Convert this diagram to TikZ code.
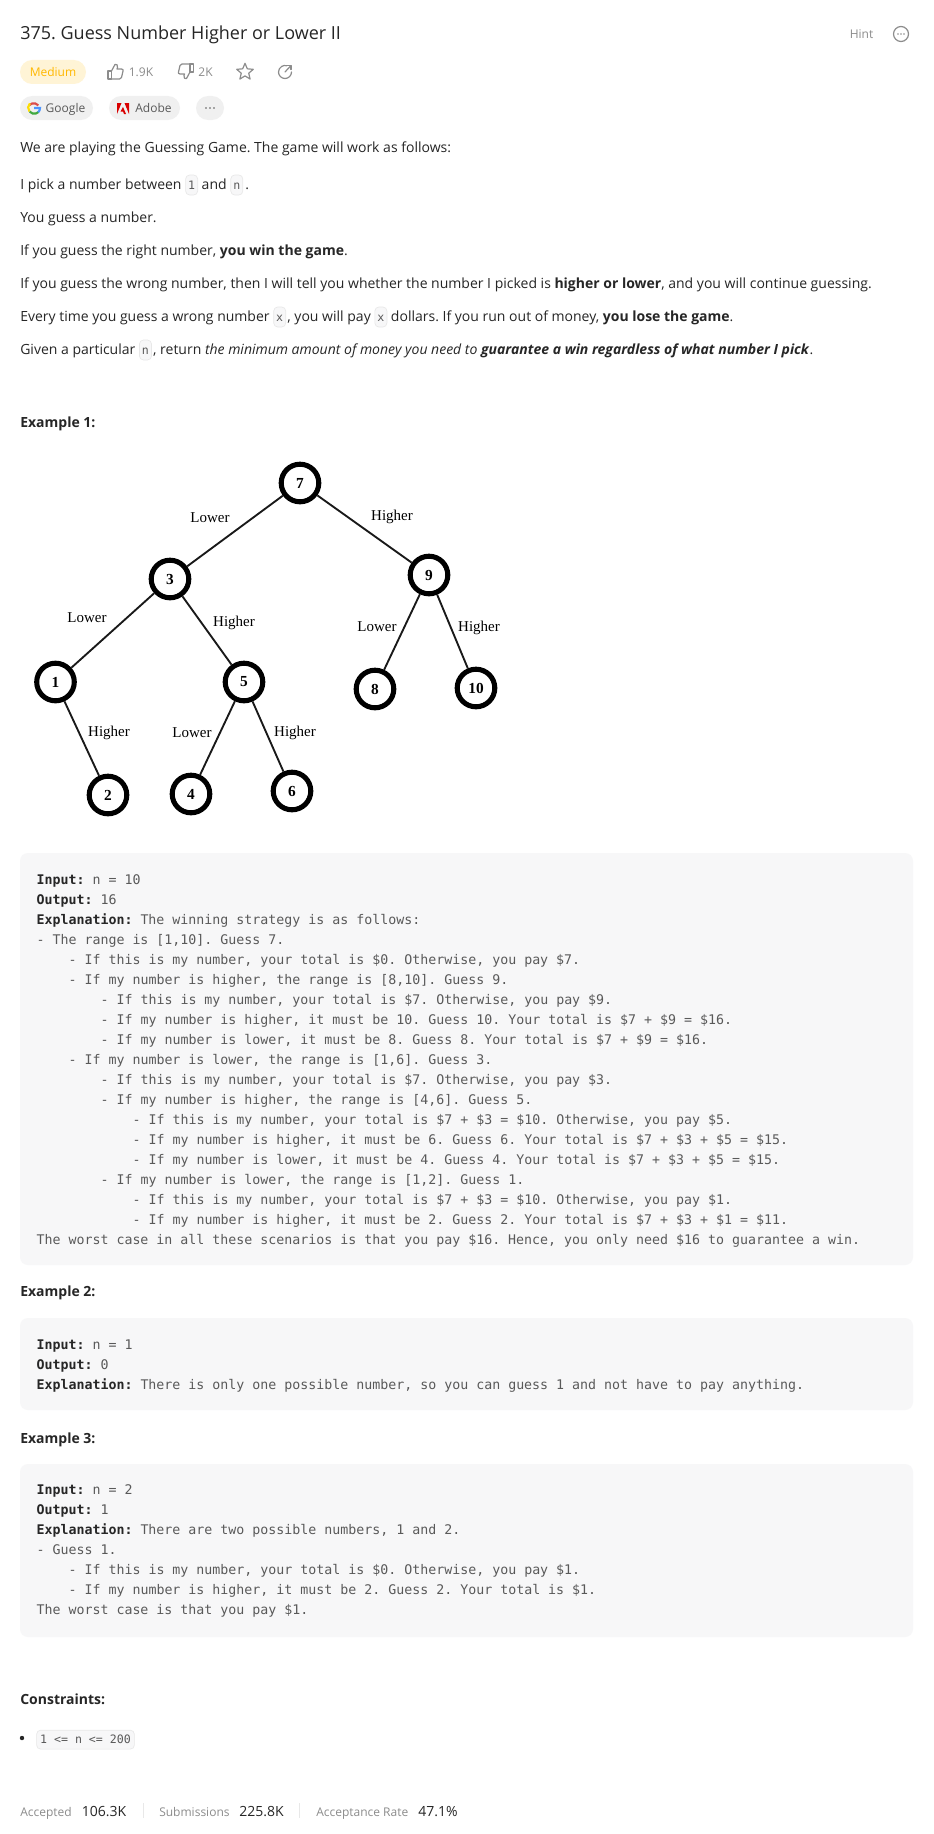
\documentclass[tikz,border=0pt]{standalone}
\usepackage{fontspec}
\setmainfont{Open Sans}
\setmonofont{DejaVu Sans Mono}
\newfontfamily\treeface{Liberation Serif}
\usetikzlibrary{positioning, shapes.geometric}
\frenchspacing

\definecolor{inkdark}{HTML}{262626}
\definecolor{inkcode}{HTML}{595959}
\definecolor{inkgrey}{HTML}{8C8C8C}
\definecolor{boxgrey}{HTML}{F7F7F8}
\definecolor{pillgrey}{HTML}{F0F0F0}
\definecolor{chipline}{HTML}{E8E8E8}
\definecolor{amber}{HTML}{FFB800}
\definecolor{amberbg}{HTML}{FFF4D6}

\newcommand{\ind}[1]{\hspace*{#1\dimexpr 24pt\relax}}
\newcommand{\thumbicon}{%
  \draw[iconline] (-7.5,-0.5) rectangle (-4,7.5);
  \draw[iconline] (-4,-0.5) -- (-0.5,-7) .. controls (1,-8) and (2.5,-6.5) .. (2,-4) -- (1.5,-2.5) -- (6,-2.5)
    .. controls (7.5,-2.5) and (7.8,-1.5) .. (7.5,-0.5) -- (6,6) .. controls (5.7,7.2) and (5,7.5) .. (4,7.5) -- (-4,7.5);
}

\tikzset{
  bodytext/.style={anchor=base west, inner sep=0pt, text=inkdark, font=\fontsize{10.5pt}{14pt}\selectfont},
  heading/.style={bodytext, font=\fontsize{10.5pt}{14pt}\selectfont\bfseries},
  smalltext/.style={anchor=base, inner sep=0pt, text=inkgrey, font=\fontsize{9pt}{12pt}\selectfont},
  chip/.style={anchor=base west, draw=chipline, fill=boxgrey, rounded corners=3pt, line width=0.5pt,
    inner xsep=1.9pt, inner ysep=0pt, text height=10.5pt, text depth=4.5pt, text=inkcode,
    font=\ttfamily\fontsize{8.7pt}{12pt}\selectfont},
  codeblock/.style={anchor=north west, inner sep=0pt, align=left, text=inkcode,
    font=\ttfamily\fontsize{9.96pt}{15pt}\selectfont},
  panel/.style={fill=boxgrey, rounded corners=6pt},
  pill/.style={fill=pillgrey, rounded corners=9pt},
  treenode/.style={circle, draw=black, fill=white, line width=3.8pt, minimum size=28.2pt, inner sep=0pt,
    font=\treeface\bfseries\fontsize{11.5pt}{12pt}\selectfont},
  treelabel/.style={inner sep=0pt, font=\treeface\fontsize{11.25pt}{12pt}\selectfont},
  edge/.style={line width=1.4pt, black!90},
  iconline/.style={draw=inkgrey, line width=0.9pt, line join=round, line cap=round},
}

\begin{document}
\begin{tikzpicture}[x=0.75pt, y=-0.75pt]
  \fill[white] (0,0) rectangle (933,1834);
  \useasboundingbox (0,0) rectangle (933,1834);

  % header row
  \node[bodytext, font=\fontsize{13.5pt}{18pt}\selectfont] (title) at (20,40) {375. Guess Number Higher or Lower II};
  \node[smalltext, text=inkgrey] (hint) at (861.5,38.5) {Hint};
  \draw[iconline] (901,34) circle (7.5);
  \foreach \x in {-3,0,3} \fill[inkgrey] (901+\x,34) circle (0.8);

  \fill[amberbg, rounded corners=9pt] (20,60) rectangle (86,84);
  \node[smalltext, text=amber] (level) at (53,76.5) {Medium};
  \begin{scope}[shift={(115.5,71.5)}] \thumbicon \end{scope} % thumb up
  \node[smalltext] (likes) at (141,76.5) {1.9K};
  \begin{scope}[shift={(186,71.5)}, rotate=180] \thumbicon \end{scope} % thumb down
  \node[smalltext] (dislikes) at (205.5,76.5) {2K};
  \node[star, star points=5, star point ratio=2.2, draw=inkgrey, line width=0.9pt, line join=round,
    minimum size=13pt, inner sep=0pt] (fav) at (245,72) {};
  \draw[iconline] (291.5,72) arc[start angle=0, end angle=285, radius=6.5];
  \draw[iconline] (285,72) -- (291,65.5);
  \draw[iconline] (287,65.5) -- (291,65.5) -- (291,69.5);

  % company tags
  \fill[pill] (20,96) rectangle (93,120);
  \fill[pill] (109,96) rectangle (180,120);
  \fill[pill] (196,96) rectangle (224,120);
  \draw[line width=1.6pt, red!80!black!70] (29.5,105) arc[start angle=225, end angle=320, radius=6];
  \draw[line width=1.6pt, yellow!80!orange] (29.5,111.5) arc[start angle=140, end angle=225, radius=6];
  \draw[line width=1.6pt, green!55!black!75] (38.5,112) arc[start angle=45, end angle=140, radius=6];
  \draw[line width=1.6pt, blue!60!cyan!70] (34,108) -- (40,108) arc[start angle=0, end angle=45, radius=6];
  \node[smalltext, text=inkcode] (google) at (65.5,112.5) {Google};
  \fill[red!85!black] (117,103) -- (121.5,103) -- (117,114) -- cycle;
  \fill[red!85!black] (124.5,103) -- (129,103) -- (129,114) -- cycle;
  \fill[red!85!black] (123,107) -- (126,114) -- (124,114) -- (123,111.5) -- (120.5,111.5) -- cycle;
  \node[smalltext, text=inkcode] (adobe) at (153.5,112.5) {Adobe};
  \foreach \x in {-4,0,4} \fill[inkcode] (210+\x,108) circle (0.9);

  % statement
  \node[bodytext] (intro) at (20,152) {We are playing the Guessing Game. The game will work as follows:};
  \node[bodytext] (pick) at (20,189) {I pick a number between};
  \node[chip, at={(pick.base east)}, xshift=2.6pt] (one) {1};
  \node[bodytext, at={(one.base east)}, xshift=2.6pt] (andw) {and};
  \node[chip, at={(andw.base east)}, xshift=2.6pt] (nA) {n};
  \node[bodytext, at={(nA.base east)}, xshift=1.5pt] (stopA) {.};
  \node[bodytext] (youguess) at (20,222) {You guess a number.};
  \node[bodytext] (right) at (20,255) {If you guess the right number, \textbf{you win the game}.};
  \node[bodytext] (wrong) at (20,288) {If you guess the wrong number, then I will tell you whether the number I picked is \textbf{higher or lower}, and you will continue guessing.};
  \node[bodytext] (every) at (20,321) {Every time you guess a wrong number};
  \node[chip, at={(every.base east)}, xshift=2.6pt] (xA) {x};
  \node[bodytext, at={(xA.base east)}, xshift=0.8pt] (pay) {, you will pay};
  \node[chip, at={(pay.base east)}, xshift=2.6pt] (xB) {x};
  \node[bodytext, at={(xB.base east)}, xshift=2.6pt] (dollars) {dollars. If you run out of money, \textbf{you lose the game}.};
  \node[bodytext] (given) at (20,354) {Given a particular};
  \node[chip, at={(given.base east)}, xshift=2.6pt] (nB) {n};
  \node[bodytext, at={(nB.base east)}, xshift=0.8pt] (ret) {, return \textit{the minimum amount of money you need to} \textbf{\textit{guarantee a win regardless of what number I pick}}.};

  \node[heading] (exA) at (20,427) {Example 1:};

  % tree
  \foreach \name/\x/\y in {7/300/483, 3/170/579, 9/429/575, 1/55.5/682, 5/244/682,
                           8/375/689, 10/476/688, 2/108/795, 4/191/794, 6/292/791}
    \node[treenode] (n\name) at (\x,\y) {\name};
  \foreach \a/\b in {7/3, 7/9, 3/1, 3/5, 9/8, 9/10, 1/2, 5/4, 5/6}
    \draw[edge] (n\a) -- (n\b);
  \foreach \txt/\x/\y [count=\i] in {Lower/210/518, Higher/392/517, Lower/87/618, Higher/234/623,
                                     Lower/377/627, Higher/479/628, Higher/109/733, Lower/192/733, Higher/295/733}
    \node[treelabel] (lab\i) at (\x,\y) {\txt};

  % example 1 output
  \fill[panel] (20,853) rectangle (913,1265);
  \node[codeblock] (codeA) at (36.3,870) {\strut\textbf{\textcolor{inkdark}{Input:}} n = 10\\
\textbf{\textcolor{inkdark}{Output:}} 16\\
\textbf{\textcolor{inkdark}{Explanation:}} The winning strategy is as follows:\\
- The range is [1,10]. Guess 7.\\
\ind{1}- If this is my number, your total is \$0. Otherwise, you pay \$7.\\
\ind{1}- If my number is higher, the range is [8,10]. Guess 9.\\
\ind{2}- If this is my number, your total is \$7. Otherwise, you pay \$9.\\
\ind{2}- If my number is higher, it must be 10. Guess 10. Your total is \$7 + \$9 = \$16.\\
\ind{2}- If my number is lower, it must be 8. Guess 8. Your total is \$7 + \$9 = \$16.\\
\ind{1}- If my number is lower, the range is [1,6]. Guess 3.\\
\ind{2}- If this is my number, your total is \$7. Otherwise, you pay \$3.\\
\ind{2}- If my number is higher, the range is [4,6]. Guess 5.\\
\ind{3}- If this is my number, your total is \$7 + \$3 = \$10. Otherwise, you pay \$5.\\
\ind{3}- If my number is higher, it must be 6. Guess 6. Your total is \$7 + \$3 + \$5 = \$15.\\
\ind{3}- If my number is lower, it must be 4. Guess 4. Your total is \$7 + \$3 + \$5 = \$15.\\
\ind{2}- If my number is lower, the range is [1,2]. Guess 1.\\
\ind{3}- If this is my number, your total is \$7 + \$3 = \$10. Otherwise, you pay \$1.\\
\ind{3}- If my number is higher, it must be 2. Guess 2. Your total is \$7 + \$3 + \$1 = \$11.\\
The worst case in all these scenarios is that you pay \$16. Hence, you only need \$16 to guarantee a win.};

  % example 2
  \node[heading] (exB) at (20,1296) {Example 2:};
  \fill[panel] (20,1318) rectangle (913,1410);
  \node[codeblock] (codeB) at (36.3,1335) {\strut\textbf{\textcolor{inkdark}{Input:}} n = 1\\
\textbf{\textcolor{inkdark}{Output:}} 0\\
\textbf{\textcolor{inkdark}{Explanation:}} There is only one possible number, so you can guess 1 and not have to pay anything.};

  % example 3
  \node[heading] (exC) at (20,1443) {Example 3:};
  \fill[panel] (20,1464) rectangle (913,1637);
  \node[codeblock] (codeC) at (36.3,1480.5) {\strut\textbf{\textcolor{inkdark}{Input:}} n = 2\\
\textbf{\textcolor{inkdark}{Output:}} 1\\
\textbf{\textcolor{inkdark}{Explanation:}} There are two possible numbers, 1 and 2.\\
- Guess 1.\\
\ind{1}- If this is my number, your total is \$0. Otherwise, you pay \$1.\\
\ind{1}- If my number is higher, it must be 2. Guess 2. Your total is \$1.\\
The worst case is that you pay \$1.};

  % constraints
  \node[heading] (limits) at (20,1704) {Constraints:};
  \fill[inkdark] (22,1738) circle (2.2);
  \node[chip, text height=10pt, text depth=4.2pt, inner xsep=2.6pt] (bound) at (36.3,1743.5) {1 <= n <= 200};

  % footer
  \node[smalltext, anchor=base west] (acc) at (20,1816) {Accepted};
  \node[bodytext] (accnum) at (81.5,1816.5) {106.3K};
  \draw[chipline] (143,1803) -- (143,1818);
  \node[smalltext, anchor=base west] (sub) at (159,1816) {Submissions};
  \node[bodytext] (subnum) at (239,1816.5) {225.8K};
  \draw[chipline] (299.5,1803) -- (299.5,1818);
  \node[smalltext, anchor=base west] (rate) at (316,1816) {Acceptance Rate};
  \node[bodytext] (ratenum) at (418,1816.5) {47.1\%};
\end{tikzpicture}
\end{document}
